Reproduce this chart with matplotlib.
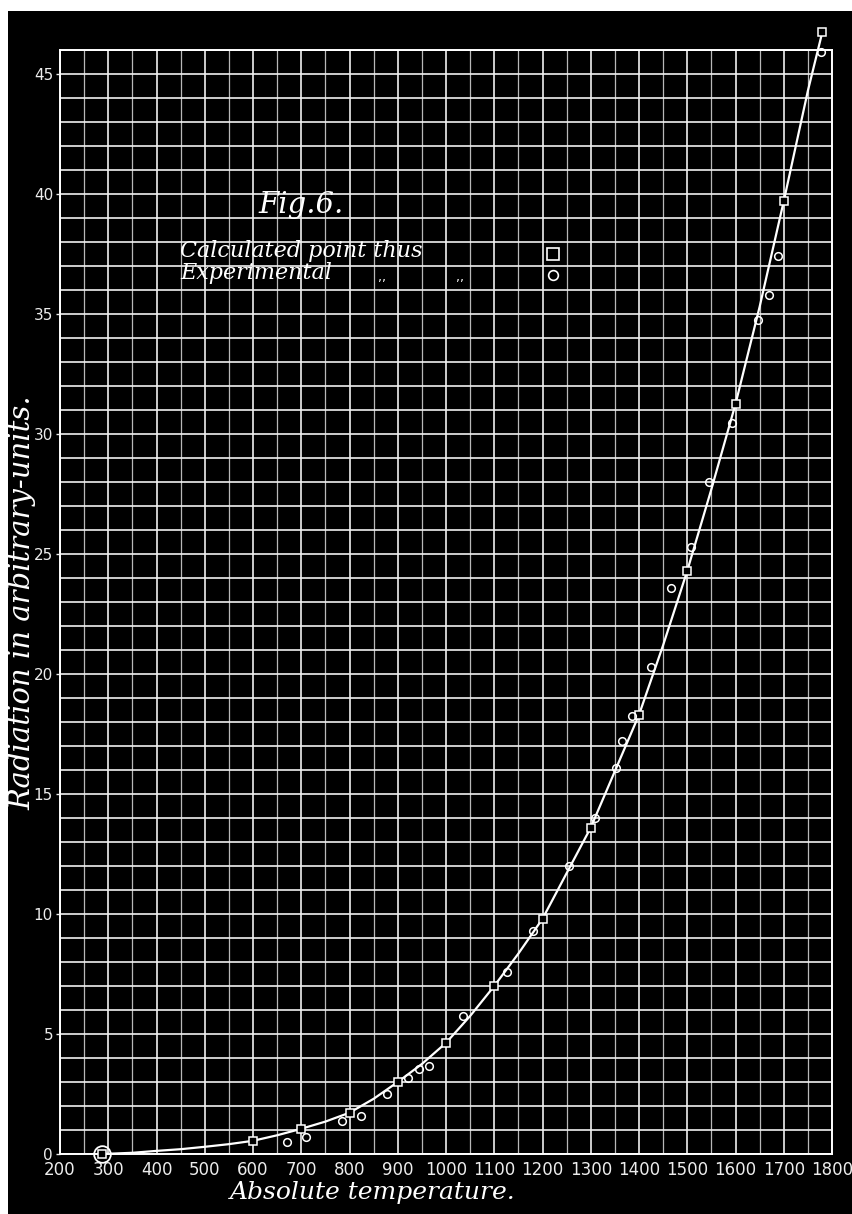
import matplotlib
matplotlib.use('Agg')
import matplotlib.pyplot as plt
from matplotlib.patches import Rectangle
from matplotlib.ticker import MultipleLocator

# Data (temperature in K, radiation in arbitrary units)
calc_temp = [288, 600, 700, 800, 900, 1000, 1100, 1200, 1300, 1400, 1500, 1600, 1700, 1780]
calc_rad = [0.0, 0.54, 1.05, 1.71, 3.0, 4.63, 7.0, 9.8, 13.6, 18.3, 24.3, 31.25, 39.7, 46.75]

exp_temp = [670, 710, 784, 824, 878, 921, 944, 965, 1035, 1126, 1181, 1255, 1309, 1352,
            1365, 1385, 1425, 1466, 1508, 1545, 1593, 1647, 1669, 1688, 1777]
exp_rad = [0.5, 0.71, 1.38, 1.58, 2.5, 3.17, 3.54, 3.67, 5.75, 7.58, 9.29, 12.0, 14.0, 16.1,
           17.2, 18.25, 20.3, 23.6, 25.3, 28.0, 30.46, 34.75, 35.8, 37.4, 45.9]

# drawn curve, read at 50 degree steps
curve_temp = [288, 350, 400, 450, 500, 550, 600, 650, 700, 750, 800, 850, 900, 950, 1000,
              1050, 1100, 1150, 1200, 1250, 1300, 1350, 1400, 1450, 1500, 1550, 1600,
              1650, 1700, 1750, 1780]
curve_rad = [0.0, 0.05, 0.13, 0.2, 0.3, 0.41, 0.55, 0.78, 1.05, 1.35, 1.72, 2.3, 3.0, 3.75,
             4.63, 5.75, 7.0, 8.35, 9.8, 11.7, 13.6, 15.95, 18.3, 21.2, 24.3, 27.7, 31.25,
             35.3, 39.7, 44.3, 46.75]

start_temp = [288]
start_rad = [0.0]

x_ticks = list(range(200, 1801, 100))
y_ticks = list(range(0, 46, 5))

W, H = 852, 1214
fig = plt.figure(figsize=(W / 100, H / 100), dpi=100, facecolor='white')

# black plate (thin white margin at top and left like the scan)
fig.patches.append(Rectangle((8 / W, 0), 1 - 8 / W, (H - 11) / H,
                             transform=fig.transFigure, facecolor='black',
                             edgecolor='none', zorder=-10))

ax = fig.add_axes([60 / W, (H - 1154) / H, (832 - 60) / W, (1154 - 50) / H])
ax.set_facecolor('black')
ax.set_xlim(200, 1800)
ax.set_ylim(0, 46)

for s in ax.spines.values():
    s.set_color('white')
    s.set_linewidth(1.4)

ax.xaxis.set_major_locator(MultipleLocator(100))
ax.xaxis.set_minor_locator(MultipleLocator(50))
ax.yaxis.set_major_locator(MultipleLocator(5))
ax.yaxis.set_minor_locator(MultipleLocator(1))
ax.set_xticks(x_ticks)
ax.set_yticks(y_ticks)

ax.grid(which='major', color='#f0f0f0', linewidth=1.2)
ax.grid(which='minor', axis='y', color='#f0f0f0', linewidth=1.2)
ax.grid(which='minor', axis='x', color='#b8b8b8', linewidth=0.9)
ax.set_axisbelow(True)

ax.tick_params(axis='x', which='both', length=0, pad=5, colors='#ececec', labelsize=12)
ax.tick_params(axis='y', which='major', length=3, width=1, pad=2, colors='#ececec', labelsize=11)
ax.tick_params(axis='y', which='minor', length=0)
for lab in ax.get_xticklabels():
    lab.set_family(['Liberation Sans Narrow', 'DejaVu Sans'])

# curve and points
ax.plot(curve_temp, curve_rad, color='white', linewidth=1.6, clip_on=False, zorder=3)
ax.plot(calc_temp, calc_rad, linestyle='none', marker='s', markersize=6,
        markerfacecolor='black', markeredgecolor='white', markeredgewidth=1.1,
        clip_on=False, zorder=4)
ax.plot(exp_temp, exp_rad, linestyle='none', marker='o', markersize=5.5,
        markerfacecolor='none', markeredgecolor='white', markeredgewidth=1.1,
        clip_on=False, zorder=4)
ax.plot(start_temp, start_rad, linestyle='none', marker='o', markersize=12,
        markerfacecolor='none', markeredgecolor='white', markeredgewidth=1.3,
        clip_on=False, zorder=4)

serif = dict(family='DejaVu Serif', style='italic', color='white')


def fx(px):
    return px / W


def fy(py):
    return 1 - py / H


fig.text(fx(373), fy(1192), 'Absolute temperature.', fontsize=18, va='center', ha='center', **serif)
fig.text(fx(22), fy(603), 'Radiation in arbitrary-units.', fontsize=21, va='center', ha='center',
         rotation=90, **serif)

fig.text(fx(258), fy(205), 'Fig.6.', fontsize=21, va='center', ha='left', **serif)
fig.text(fx(180), fy(251), 'Calculated point thus', fontsize=16, va='center', ha='left', **serif)
fig.text(fx(180), fy(273), 'Experimental', fontsize=16, va='center', ha='left', **serif)
fig.text(fx(382), fy(278), ',,', fontsize=9, va='center', ha='center', color='white')
fig.text(fx(460), fy(278), ',,', fontsize=9, va='center', ha='center', color='white')

# legend symbols
fig.add_artist(plt.Line2D([fx(553)], [fy(254)], marker='s', markersize=8,
                          markerfacecolor='black', markeredgecolor='white',
                          markeredgewidth=1.2, linestyle='none'))
fig.add_artist(plt.Line2D([fx(553)], [fy(275)], marker='o', markersize=7,
                          markerfacecolor='none', markeredgecolor='white',
                          markeredgewidth=1.2, linestyle='none'))

fig.savefig('out.png', dpi=100, facecolor=fig.get_facecolor())
